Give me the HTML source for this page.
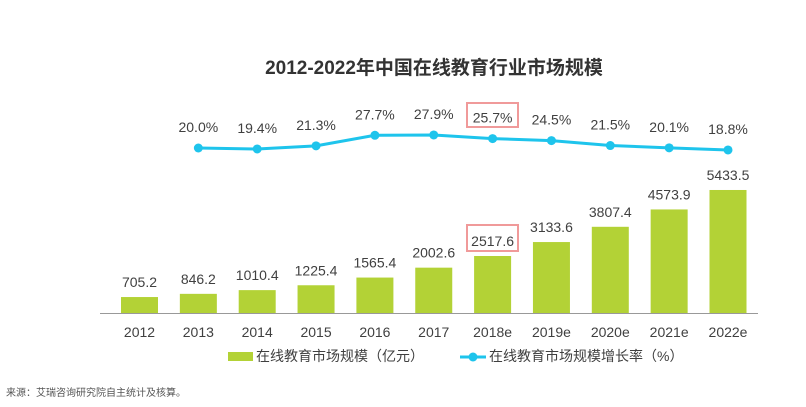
<!DOCTYPE html>
<html><head><meta charset="utf-8"><style>
body{margin:0;background:#fff;width:806px;height:402px;overflow:hidden}
svg text{font-family:"Liberation Sans","Noto Sans CJK SC",sans-serif}
</style></head><body>
<svg id="c" width="806" height="402">
<text x="434" y="74" text-anchor="middle" font-size="19" font-weight="bold" fill="#333">2012-2022年中国在线教育行业市场规模</text>
<line x1="100" y1="313.5" x2="758" y2="313.5" stroke="#999" stroke-width="1"/>
<g id="bars"></g><g id="line"></g>
<rect x="467" y="103" width="51" height="24" fill="none" stroke="#f09a9a" stroke-width="2"/>
<rect x="467" y="225" width="51" height="26" fill="none" stroke="#f09a9a" stroke-width="2"/>
<rect x="228" y="352" width="25" height="9" fill="#b3d236"/>
<text x="256" y="361" font-size="14" fill="#404040">在线教育市场规模（亿元）</text>
<line x1="460" y1="357" x2="486" y2="357" stroke="#1ec4ec" stroke-width="3"/>
<circle cx="473" cy="357" r="4.5" fill="#1ec4ec"/>
<text x="489" y="361" font-size="14" fill="#404040">在线教育市场规模增长率（%）</text>
<text x="6" y="396" font-size="10" fill="#555">来源：艾瑞咨询研究院自主统计及核算。</text>
</svg>
<script>
const categories=["2012","2013","2014","2015","2016","2017","2018e","2019e","2020e","2021e","2022e"];
const sizeValues=[705.2,846.2,1010.4,1225.4,1565.4,2002.6,2517.6,3133.6,3807.4,4573.9,5433.5];
const rateValues=[20.0,19.4,21.3,27.7,27.9,25.7,24.5,21.5,20.1,18.8];
const NS="http://www.w3.org/2000/svg";
const xc=i=>139.5+i*58.85;
const yb=v=>313-v*0.02264;
const yl=v=>148-(v-20)*1.65;
const bars=document.getElementById('bars'),line=document.getElementById('line');
function mk(tag,at,parent){const e=document.createElementNS(NS,tag);for(const k in at)e.setAttribute(k,at[k]);parent.appendChild(e);return e;}
categories.forEach((c,i)=>{
 const r=mk('rect',{x:xc(i)-18.5,y:yb(sizeValues[i]),width:37,height:313-yb(sizeValues[i]),fill:'#b3d236'},bars);
 
 
 const t=mk('text',{x:xc(i),y:yb(sizeValues[i])-10,'text-anchor':'middle','font-size':14,fill:'#404040'},bars);
 t.textContent=sizeValues[i].toFixed(1);
 
 
 const x=mk('text',{x:xc(i),y:337,'text-anchor':'middle','font-size':14,fill:'#404040'},bars);
 x.textContent=c;
 
 
});
const pts=rateValues.map((v,i)=>(xc(i+1))+','+yl(v)).join(' ');
const pl=mk('polyline',{points:pts,fill:'none',stroke:'#1ec4ec','stroke-width':3},line);


rateValues.forEach((v,i)=>{
 const c=mk('circle',{cx:xc(i+1),cy:yl(v),r:4.5,fill:'#1ec4ec'},line);
 
 
 const t=mk('text',{x:xc(i+1),y:yl(v)-16,'text-anchor':'middle','font-size':14,fill:'#404040'},line);
 t.textContent=v.toFixed(1)+'%';
 
 
});
</script>
</body></html>
